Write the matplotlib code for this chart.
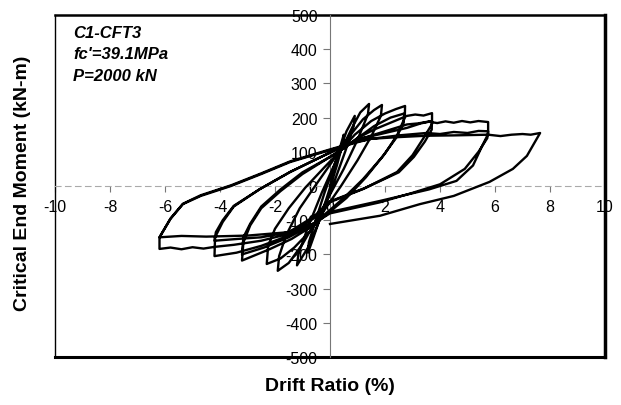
import matplotlib
matplotlib.use("Agg")
import matplotlib.pyplot as plt
import numpy as np

plt.rcParams['font.family'] = ['Liberation Sans', 'DejaVu Sans']
plt.rcParams['axes.unicode_minus'] = False

# ===== hysteresis data, one half-cycle per pair =====
# drift ratio (%) / critical end moment (kN-m)
c1_drift = [0, 0.15, 0.3, 0.5, 0.47, 0.25, 0, -0.3, -0.6, -0.8]
c1_moment = [0, 45, 95, 150, 125, 60, -5, -80, -150, -195]

c2_drift = [-0.77, -0.5, -0.2, 0.2, 0.6, 0.9, 0.86, 0.55, 0.1, -0.3, -0.8, -1.2]
c2_moment = [-165, -95, -20, 70, 160, 205, 175, 100, 0, -85, -180, -232]

c3_drift = [-1.15, -0.8, -0.3, 0.2, 0.8, 1.1, 1.42,
            1.38, 1.0, 0.5, 0, -0.5, -1.0, -1.5, -1.9]
c3_moment = [-200, -120, -20, 70, 170, 215, 240,
             210, 135, 50, -25, -100, -170, -225, -248]

c4_drift = [-1.85, -1.6, -1.1, -0.5, 0.2, 0.7, 1.2, 1.6, 1.89,
            1.85, 1.5, 1.0, 0.4, -0.2, -0.7, -1.3, -1.8, -2.3]
c4_moment = [-205, -145, -65, 5, 85, 145, 195, 222, 237,
             205, 145, 75, 0, -70, -130, -180, -212, -228]

c5_drift = [-2.25, -2.0, -1.5, -0.9, -0.2, 0.4, 0.9, 1.5, 2.0, 2.4, 2.73,
            2.72, 2.45, 2.0, 1.3, 0.6, 0, -0.6, -1.4, -2.2, -2.8, -3.2]
c5_moment = [-175, -125, -65, -5, 55, 105, 150, 190, 212, 225, 234,
             200, 150, 95, 25, -35, -75, -115, -155, -185, -205, -218]

c6_drift = [-3.15, -2.9, -2.5, -1.8, -1.0, 0, 0.5, 1.0, 1.6, 2.2, 2.7,
            2.68, 2.4, 1.9, 1.2, 0.5, 0, -0.6, -1.5, -2.4, -3.2]
c6_moment = [-165, -115, -65, -15, 35, 85, 110, 140, 175, 200, 212,
             185, 140, 85, 20, -35, -70, -110, -150, -180, -200]

c7_drift = [-3.15, -2.9, -2.5, -1.8, -1.0, 0, 0.5, 1.0, 1.6, 2.2, 2.8, 3.1, 3.4, 3.71,
            3.71, 3.4, 3.0, 2.44, 1.2, 0, -0.6, -1.5, -2.5, -3.4, -4.2]
c7_moment = [-150, -110, -60, -10, 40, 85, 110, 140, 165, 185, 205, 209, 206, 213,
             181, 140, 90, 41, -9, -47, -95, -145, -175, -195, -205]

c8_drift = [-4.18, -3.9, -3.5, -2.55, -1.45, -0.25, 0.5, 1.2, 2.0, 2.8, 3.2, 3.7,
            3.7, 3.45, 3.05, 2.5, 1.3, 0, -0.6, -1.5, -2.5, -3.4, -4.2]
c8_moment = [-150, -105, -60, -9, 41, 88, 115, 140, 160, 180, 183, 190,
             165, 130, 85, 40, -5, -45, -90, -135, -150, -155, -160]

c9_drift = [-4.15, -3.9, -3.5, -2.55, -1.45, -0.25, 0.5, 1.2, 2.0, 2.8,
            3.3, 3.6, 3.9, 4.2, 4.5, 4.8, 5.1, 5.4, 5.75,
            5.75, 5.55, 5.2, 4.6, 3.6, 1.8, 0, -0.6, -1.5, -2.5, -3.5,
            -4.2, -4.6, -5.0, -5.4, -5.8, -6.2]
c9_moment = [-135, -100, -58, -9, 41, 88, 118, 140, 155, 170,
             183, 188, 184, 189, 185, 190, 186, 190, 187,
             152, 120, 60, 15, -10, -44, -76, -110, -140, -160, -172,
             -178, -183, -179, -185, -180, -184]

c10_drift = [-6.2, -5.8, -5.35, -4.7, -3.6, -2.5, -1.45, 0, 1.0, 1.5, 2.5,
             3.5, 4.0, 4.5, 5.0, 5.4, 5.75,
             5.72, 5.4, 4.9, 4.0, 3.0, 1.8, 0, -0.6, -1.5, -3.0, -4.5, -5.4, -6.2]
c10_moment = [-150, -96, -53, -29, 0, 35, 70, 105, 128, 138, 148,
              155, 152, 158, 155, 161, 160,
              140, 100, 50, 5, -20, -48, -80, -110, -135, -145, -148, -146, -150]

c11_drift = [-6.2, -5.8, -5.35, -4.7, -3.6, -2.5, -1.45, 0, 1.0, 1.5, 2.5,
             3.5, 4.5, 5.75, 6.2, 6.6, 7.0, 7.3, 7.64,
             7.16, 6.65, 5.8, 4.5, 3.27, 1.82, 0]
c11_moment = [-150, -95, -52, -27, 2, 37, 72, 107, 130, 138, 143,
              147, 148, 150, 146, 150, 152, 150, 155,
              88, 50, 12, -29, -53, -87, -111]

drift = np.concatenate([c1_drift, c2_drift, c3_drift, c4_drift, c5_drift, c6_drift,
                        c7_drift, c8_drift, c9_drift, c10_drift, c11_drift])
moment = np.concatenate([c1_moment, c2_moment, c3_moment, c4_moment, c5_moment, c6_moment,
                         c7_moment, c8_moment, c9_moment, c10_moment, c11_moment])

x_ticks = list(range(-10, 11, 2))
y_ticks = list(range(-500, 501, 100))

# ===== figure =====
fig = plt.figure(figsize=(6.21, 4.06), dpi=100)
ax = fig.add_axes([55 / 621, 1 - 358 / 406, 550 / 621, 342 / 406])

ax.plot(drift, moment, color='black', lw=1.7, zorder=3, solid_joinstyle='round')

ax.set_xlim(-10, 10)
ax.set_ylim(-500, 500)
ax.set_xticks(x_ticks)
ax.set_yticks(y_ticks)

# axes crossing at the origin, Excel style
ax.spines['left'].set_position(('data', 0))
ax.spines['bottom'].set_position(('data', 0))
ax.spines['left'].set_color('#777777')
ax.spines['left'].set_linewidth(0.8)
ax.spines['bottom'].set_color('#aaaaaa')
ax.spines['bottom'].set_linewidth(0.8)
ax.spines['bottom'].set_linestyle((0, (5, 4)))
ax.spines['top'].set_visible(False)
ax.spines['right'].set_visible(False)

ax.tick_params(axis='x', direction='out', length=4, width=0.8, color='#777777',
               pad=5, labelsize=11.5)
ax.tick_params(axis='y', direction='out', length=5, width=0.8, color='#777777',
               pad=4, labelsize=11.5)

# frame around the plot area
ax.plot([0, 0], [0, 1], transform=ax.transAxes, color='black', lw=1.0, clip_on=False)
ax.plot([0, 1], [1, 1], transform=ax.transAxes, color='black', lw=1.8, clip_on=False)
ax.plot([1, 1], [0, 1], transform=ax.transAxes, color='black', lw=2.5, clip_on=False)
ax.plot([0, 1], [0, 0], transform=ax.transAxes, color='black', lw=2.2, clip_on=False)

# labels
fig.text(330 / 621, 1 - 387 / 406, "Drift Ratio (%)", ha='center', va='center',
         fontsize=14, fontweight='bold')
fig.text(23 / 621, 1 - 183 / 406, "Critical End Moment (kN-m)", ha='center', va='center',
         rotation=90, fontsize=14, fontweight='bold')

for i, s in enumerate(["C1-CFT3", "fc'=39.1MPa", "P=2000 kN"]):
    ax.text(0.033, 0.950 - i * 0.064, s, transform=ax.transAxes, ha='left', va='center',
            fontsize=12, fontweight='bold', fontstyle='italic')

fig.savefig("out.png", dpi=100)
